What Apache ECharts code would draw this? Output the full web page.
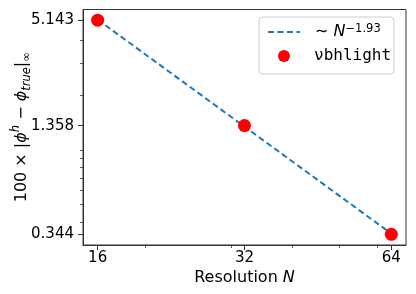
<!DOCTYPE html>
<html>
<head>
<meta charset="utf-8">
<script src="https://cdn.jsdelivr.net/npm/echarts@6/dist/echarts.min.js"></script>
<style>
html,body{margin:0;padding:0;background:#fff;}
#chart{width:416px;height:294px;}
</style>
</head>
<body>
<div id="chart"></div>
<script>
// ---- data ----
const resolutions = [16, 32, 64];
const errors = [5.143, 1.358, 0.344];
const fitN = [16, 64];
const fitErr = [5.18, 0.347];
const xTicks = [16, 32, 64];
const xMinorTicks = [20, 30, 40, 50, 60];
const yTicks = [0.344, 1.358, 5.143];
const yMinorTicks = [0.4, 0.5, 0.6, 0.7, 0.8, 0.9, 1, 2, 3, 4];
const xRange = [14.93, 68.59];
const yRange = [0.3005, 5.888];
const seriesNames = ['fit', 'nubhlight'];

const FONT = 'DejaVu Sans';
const AX = '#333';

const chart = echarts.init(document.getElementById('chart'), null, {renderer: 'canvas'});

function baseX(extra) {
  return Object.assign({
    type: 'log', logBase: 2, gridIndex: 0, min: xRange[0], max: xRange[1],
    splitLine: {show: false}, position: 'bottom'
  }, extra);
}
function baseY(extra) {
  return Object.assign({
    type: 'log', logBase: 10, gridIndex: 0, min: yRange[0], max: yRange[1],
    splitLine: {show: false}, position: 'left'
  }, extra);
}

const option = {
  animation: false,
  backgroundColor: '#fff',
  grid: {left: 83, right: 10, top: 9.5, bottom: 49, containLabel: false, outerBoundsMode: 'none',
         show: true, borderColor: AX, borderWidth: 1, backgroundColor: 'transparent'},
  xAxis: [
    baseX({
      axisLine: {show: true, onZero: false, lineStyle: {color: AX, width: 1}},
      axisTick: {show: true, length: 5, lineStyle: {color: AX, width: 1}, customValues: xTicks},
      axisLabel: {show: true, margin: 6, color: '#000', fontFamily: FONT, fontSize: 15,
                  customValues: xTicks, formatter: v => String(Math.round(v))},
      name: '{t|Resolution }{i|N}',
      nameLocation: 'middle', nameGap: 25, nameMoveOverlap: false,
      nameTextStyle: {rich: {
        t: {fontFamily: FONT, fontSize: 16, color: '#000'},
        i: {fontFamily: FONT, fontSize: 16, fontStyle: 'italic', color: '#000'}
      }}
    }),
    baseX({
      axisLine: {show: false},
      axisTick: {show: true, length: 3, lineStyle: {color: AX, width: 0.8}, customValues: xMinorTicks},
      axisLabel: {show: false}
    })
  ],
  yAxis: [
    baseY({
      axisLine: {show: true, onZero: false, lineStyle: {color: AX, width: 1}},
      axisTick: {show: true, length: 5, lineStyle: {color: AX, width: 1}, customValues: yTicks},
      axisLabel: {show: true, margin: 9, color: '#000', fontFamily: FONT, fontSize: 15,
                  customValues: yTicks, formatter: v => Number(v).toFixed(3)},
      name: '{t|100 × |}{i|ϕ}{sup|h}{t| − }{i|ϕ}{sub|true}{t||}{sub|∞}',
      nameLocation: 'middle', nameGap: 50, nameRotate: 90, nameMoveOverlap: false,
      nameTextStyle: {rich: {
        t: {fontFamily: FONT, fontSize: 16, color: '#000', lineHeight: 23},
        i: {fontFamily: FONT, fontSize: 16, fontStyle: 'italic', color: '#000', lineHeight: 23},
        sup: {fontFamily: FONT, fontSize: 11.5, fontStyle: 'italic', color: '#000', lineHeight: 12, verticalAlign: 'top'},
        sub: {fontFamily: FONT, fontSize: 11.5, fontStyle: 'italic', color: '#000', lineHeight: 12, verticalAlign: 'bottom'}
      }}
    }),
    baseY({
      axisLine: {show: false},
      axisTick: {show: true, length: 3, lineStyle: {color: AX, width: 0.8}, customValues: yMinorTicks},
      axisLabel: {show: false}
    })
  ],
  legend: {
    show: true, orient: 'vertical', left: 259, top: 17,
    padding: [6, 3, 10, 8], itemGap: 8, itemWidth: 32, itemHeight: 12,
    backgroundColor: 'rgba(255,255,255,0.8)', borderColor: '#ccc', borderWidth: 1, borderRadius: 4,
    data: [
      {name: seriesNames[0], itemStyle: {opacity: 0}},
      {name: seriesNames[1]}
    ],
    formatter: function (name) {
      if (name === seriesNames[0]) return '{p|∼ }{i|N}{sup|−1.93}';
      return '{m|νbhlight}';
    },
    textStyle: {
      color: '#000',
      rich: {
        p: {fontFamily: FONT, fontSize: 16, color: '#000', padding: [0, 0, 0, 10], lineHeight: 18},
        i: {fontFamily: FONT, fontSize: 16, fontStyle: 'italic', color: '#000', lineHeight: 18},
        sup: {fontFamily: FONT, fontSize: 11.5, color: '#000', lineHeight: 11, verticalAlign: 'top'},
        m: {fontFamily: 'DejaVu Sans Mono', fontSize: 16, color: '#000', padding: [0, 0, 0, 9], lineHeight: 18}
      }
    }
  },
  series: [
    {
      name: seriesNames[0], type: 'line', xAxisIndex: 0, yAxisIndex: 0,
      data: fitN.map((n, i) => [n, fitErr[i]]),
      symbol: 'none',
      lineStyle: {color: '#1f77b4', width: 2, type: [6, 3.5]},
      itemStyle: {color: '#1f77b4'},
      z: 2
    },
    {
      name: seriesNames[1], type: 'scatter', xAxisIndex: 0, yAxisIndex: 0,
      data: resolutions.map((n, i) => [n, errors[i]]),
      symbol: 'circle', symbolSize: 13,
      itemStyle: {color: '#ff0000', opacity: 1},
      z: 3
    }
  ]
};
chart.setOption(option);
</script>
</body>
</html>
